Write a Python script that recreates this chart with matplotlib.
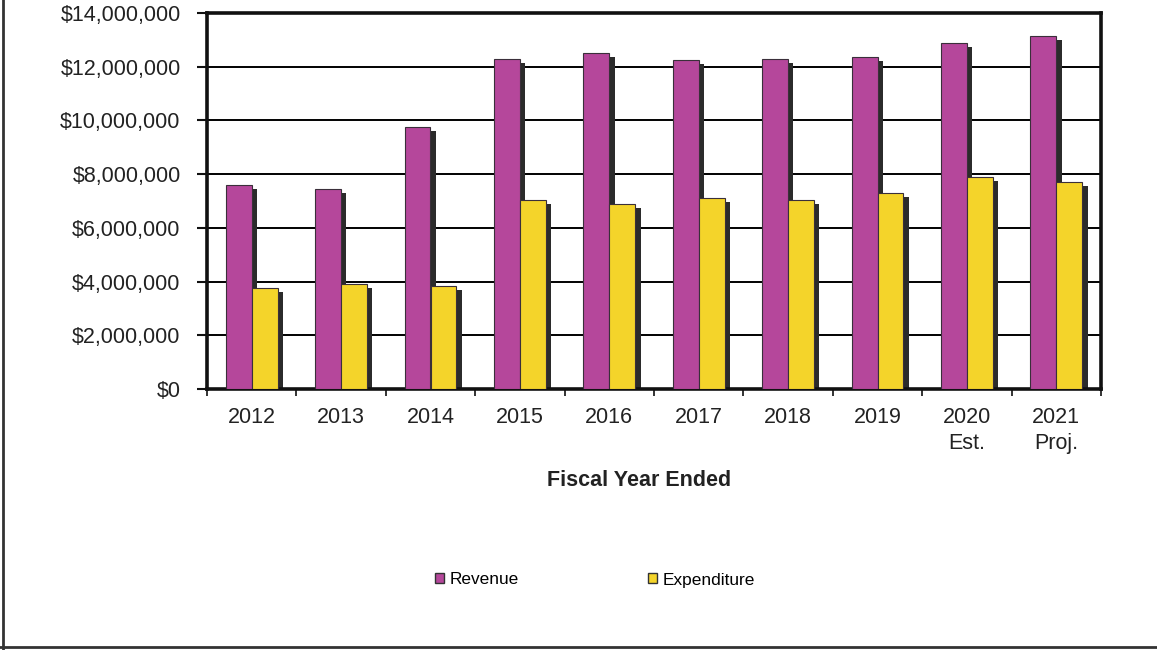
import numpy as np
import matplotlib.pyplot as plt
from matplotlib.patches import Patch
from matplotlib.lines import Line2D
from matplotlib.ticker import FuncFormatter

# Data
years = ['2012', '2013', '2014', '2015', '2016', '2017', '2018', '2019',
         '2020\nEst.', '2021\nProj.']
revenue = [7600000, 7430000, 9740000, 12300000, 12500000, 12240000,
           12270000, 12350000, 12870000, 13130000]
expenditure = [3770000, 3920000, 3840000, 7050000, 6900000, 7130000,
               7050000, 7310000, 7910000, 7720000]

rev_color = '#b5479b'
exp_color = '#f4d42a'
shadow_color = '#2b2b2b'

plt.rc('font', family=['Liberation Sans', 'DejaVu Sans'], size=15.5)

W, H = 1157, 650
fig = plt.figure(figsize=(W / 100, H / 100), dpi=100)
ax = fig.add_axes([207 / W, 1 - 389 / H, (1101 - 207) / W, (389 - 13) / H])

x = np.arange(len(years))
w = 0.29
off = 0.145
depth_x = 0.06
depth_y = 150000

for vals, dx, color in [(revenue, -off, rev_color),
                        (expenditure, off, exp_color)]:
    vals = np.array(vals)
    # dark side face for the pseudo-3D look
    ax.bar(x + dx + depth_x, vals - depth_y, w, color=shadow_color, zorder=2)
    ax.bar(x + dx, vals, w, color=color, edgecolor='#3a2f3a',
           linewidth=0.8, zorder=3)

ax.set_xlim(-0.5, len(years) - 0.5)
ax.set_ylim(0, 14000000)

ax.set_axisbelow(True)
ax.yaxis.grid(True, color='black', linewidth=1.4)
for s in ax.spines.values():
    s.set_linewidth(2.6)
    s.set_color('#111111')

ax.set_yticks(np.arange(0, 14000001, 2000000))
ax.yaxis.set_major_formatter(FuncFormatter(lambda v, p: '${:,.0f}'.format(v)))
ax.tick_params(axis='y', length=7, width=1.5, pad=12, colors='#111111',
               labelcolor='#222222')

ax.set_xticks(np.arange(-0.5, len(years), 1))
ax.set_xticklabels([])
ax.set_xticks(x, minor=True)
ax.set_xticklabels(years, minor=True, linespacing=1.3)
ax.tick_params(axis='x', which='major', length=5, width=1.2, colors='#111111')
ax.tick_params(axis='x', which='minor', length=0, pad=13,
               labelcolor='#222222')

fig.text(639 / W, 1 - 480 / H, 'Fiscal Year Ended', ha='center',
         va='center', weight='bold', size=15.5, color='#222222')

handles = [Patch(facecolor=rev_color, edgecolor='#333333', label='Revenue'),
           Patch(facecolor=exp_color, edgecolor='#333333', label='Expenditure')]
fig.legend(handles=handles, loc='center', bbox_to_anchor=(595 / W, 1 - 580 / H),
           ncol=2, frameon=False, fontsize=12.4, handlelength=0.5,
           handleheight=0.5, handletextpad=0.35, columnspacing=7.5)

# page border from the scanned report
fig.add_artist(Line2D([2.5 / W, 2.5 / W], [0, 1], color='#333333', lw=2))
fig.add_artist(Line2D([0, 1], [1 - 647 / H, 1 - 647 / H], color='#333333', lw=2))

fig.savefig('out.png', dpi=100)
